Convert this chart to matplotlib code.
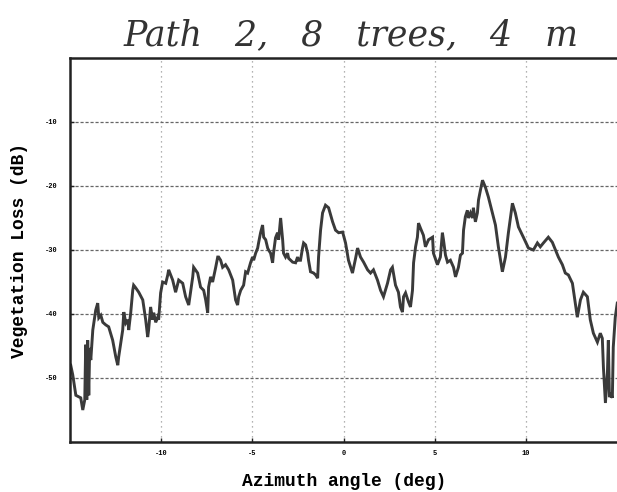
import numpy as np
import matplotlib.pyplot as plt

# azimuth angle (deg) and vegetation loss (dB)
azimuth = [-14.96, -14.85, -14.68, -14.41, -14.30, -14.19, -14.14, -14.08, -14.03, -13.97,
           -13.92, -13.86, -13.75, -13.59, -13.48, -13.42, -13.31, -13.20, -13.04, -12.88,
           -12.66, -12.49, -12.38, -12.33, -12.11, -12.05, -11.94, -11.83, -11.78, -11.67,
           -11.56, -11.51, -11.40, -11.23, -11.01, -10.85, -10.74, -10.69, -10.58, -10.47,
           -10.41, -10.30, -10.19, -10.14, -10.03, -9.92, -9.75, -9.64, -9.59, -9.37,
           -9.21, -9.04, -8.82, -8.66, -8.49, -8.27, -8.22, -8.00, -7.84, -7.67,
           -7.56, -7.45, -7.40, -7.29, -7.18, -7.01, -6.90, -6.85, -6.74, -6.63,
           -6.47, -6.30, -6.08, -5.92, -5.81, -5.75, -5.64, -5.48, -5.37, -5.26,
           -5.21, -5.10, -4.99, -4.93, -4.82, -4.71, -4.66, -4.55, -4.44, -4.38,
           -4.27, -4.16, -4.11, -4.00, -3.89, -3.84, -3.73, -3.62, -3.56, -3.45,
           -3.34, -3.29, -3.18, -3.07, -3.01, -2.79, -2.63, -2.52, -2.47, -2.36,
           -2.25, -2.19, -2.08, -1.97, -1.92, -1.81, -1.64, -1.53, -1.42, -1.37,
           -1.26, -1.15, -0.99, -0.82, -0.60, -0.44, -0.27, -0.05, 0.11, 0.27,
           0.49, 0.66, 0.77, 0.93, 1.10, 1.32, 1.48, 1.64, 1.86, 2.03,
           2.19, 2.41, 2.58, 2.68, 2.85, 3.01, 3.12, 3.23, 3.29, 3.40,
           3.56, 3.67, 3.78, 3.84, 3.95, 4.05, 4.11, 4.22, 4.38, 4.49,
           4.66, 4.88, 4.93, 5.15, 5.31, 5.42, 5.48, 5.59, 5.70, 5.86,
           6.03, 6.14, 6.30, 6.41, 6.52, 6.58, 6.68, 6.79, 6.85, 6.96,
           7.07, 7.12, 7.23, 7.34, 7.40, 7.51, 7.62, 7.78, 7.94, 8.16,
           8.33, 8.49, 8.71, 8.88, 9.04, 9.26, 9.42, 9.59, 9.86, 10.14,
           10.41, 10.63, 10.79, 10.96, 11.23, 11.45, 11.62, 11.78, 12.00, 12.16,
           12.33, 12.55, 12.71, 12.82, 12.99, 13.15, 13.37, 13.53, 13.70, 13.92,
           14.08, 14.19, 14.25, 14.36, 14.47, 14.52, 14.58, 14.63, 14.74, 14.79,
           14.90, 15.01]
loss_db = [-48.0, -49.5, -52.7, -53.1, -55.0, -53.4, -44.8, -53.4, -44.1, -52.7,
           -45.3, -47.2, -42.5, -39.4, -38.3, -40.6, -40.2, -41.3, -41.7, -42.0,
           -44.1, -46.7, -48.0, -46.7, -42.5, -39.7, -41.4, -40.9, -42.5, -39.8,
           -36.3, -35.5, -35.9, -36.6, -37.8, -40.9, -43.6, -42.5, -38.9, -40.9,
           -39.8, -41.3, -40.5, -40.9, -36.7, -35.0, -35.2, -33.9, -33.1, -34.7,
           -36.6, -34.7, -35.2, -37.3, -38.6, -34.2, -32.7, -33.6, -35.8, -36.3,
           -37.8, -39.8, -35.8, -34.2, -35.0, -32.7, -31.1, -31.1, -31.6, -32.7,
           -32.3, -33.1, -34.7, -37.8, -38.6, -37.3, -36.3, -35.5, -33.4, -33.6,
           -33.1, -32.0, -31.1, -31.6, -30.5, -29.7, -28.9, -27.3, -26.1, -28.0,
           -28.4, -29.7, -30.0, -30.5, -32.0, -30.5, -28.1, -27.3, -28.4, -25.0,
           -28.4, -30.5, -31.1, -30.5, -31.3, -31.9, -32.0, -31.1, -31.6, -31.6,
           -29.7, -28.9, -29.2, -30.5, -31.6, -33.4, -33.6, -33.9, -34.4, -31.1,
           -26.9, -24.2, -23.0, -23.4, -25.6, -26.9, -27.3, -27.2, -28.9, -31.6,
           -33.6, -31.3, -29.7, -31.1, -31.9, -33.1, -33.6, -33.1, -34.7, -36.3,
           -37.3, -35.2, -33.1, -32.7, -35.5, -36.6, -38.9, -39.7, -37.3, -36.7,
           -38.1, -38.9, -36.3, -32.0, -29.5, -28.0, -25.8, -26.6, -27.7, -29.5,
           -28.4, -28.0, -30.5, -32.3, -31.1, -27.3, -28.4, -30.8, -31.9, -31.6,
           -32.7, -34.2, -32.7, -30.8, -30.5, -26.9, -24.8, -23.8, -25.0, -24.2,
           -25.0, -23.4, -25.6, -24.2, -22.2, -20.6, -19.1, -20.2, -21.7, -24.2,
           -26.1, -29.5, -33.4, -31.1, -27.3, -22.7, -24.2, -26.4, -28.0, -29.7,
           -30.0, -28.9, -29.5, -28.9, -28.0, -28.8, -30.0, -31.1, -32.3, -33.6,
           -33.9, -35.2, -38.3, -40.5, -37.8, -36.6, -37.3, -40.9, -43.0, -44.4,
           -43.0, -43.8, -48.3, -53.9, -49.2, -44.1, -53.0, -52.3, -53.1, -45.2,
           -40.5, -38.3]

xticks = [-10, -5, 0, 5, 10]
yticks = [-10, -20, -30, -40, -50]

fig = plt.figure(figsize=(6.17, 4.92), dpi=100)
ax = fig.add_axes([70 / 617, 1 - 442 / 492, 548 / 617, 384 / 492])

ax.plot(azimuth, loss_db, color='#3a3a3a', lw=2.1, solid_joinstyle='miter')

ax.set_xlim(-15, 15.05)
ax.set_ylim(-60, 0)
ax.set_xticks(xticks)
ax.set_yticks(yticks)
ax.set_xticklabels([str(t) for t in xticks], fontsize=5, fontweight='bold', family='Liberation Mono')
ax.set_yticklabels([str(t) for t in yticks], fontsize=5, fontweight='bold', family='Liberation Mono')
ax.tick_params(direction='in', length=3, width=1, pad=9, color='#222222')
ax.tick_params(axis='x', pad=6)

# horizontal grid dashed and dark, vertical grid faint dots
ax.grid(axis='y', linestyle=(0, (2.5, 1.5)), color='#666666', lw=0.9)
ax.grid(axis='x', linestyle=(0, (1, 3)), color='#999999', lw=0.9)

for s in ['left', 'bottom', 'top']:
    ax.spines[s].set_linewidth(1.8)
    ax.spines[s].set_color('#222222')
ax.spines['right'].set_visible(False)

ax.set_xlabel('Azimuth angle (deg)', fontsize=13, fontweight='bold', family='Liberation Mono', labelpad=11)
ax.set_ylabel('Vegetation Loss (dB)', fontsize=13, fontweight='bold', family='Liberation Mono', labelpad=12)

fig.text(351 / 617, 1 - 45 / 492, 'Path   2,   8   trees,   4   m', fontsize=25, style='italic',
         family='DejaVu Serif', ha='center', va='baseline', color='#333333')

fig.savefig('out.png', dpi=100)
